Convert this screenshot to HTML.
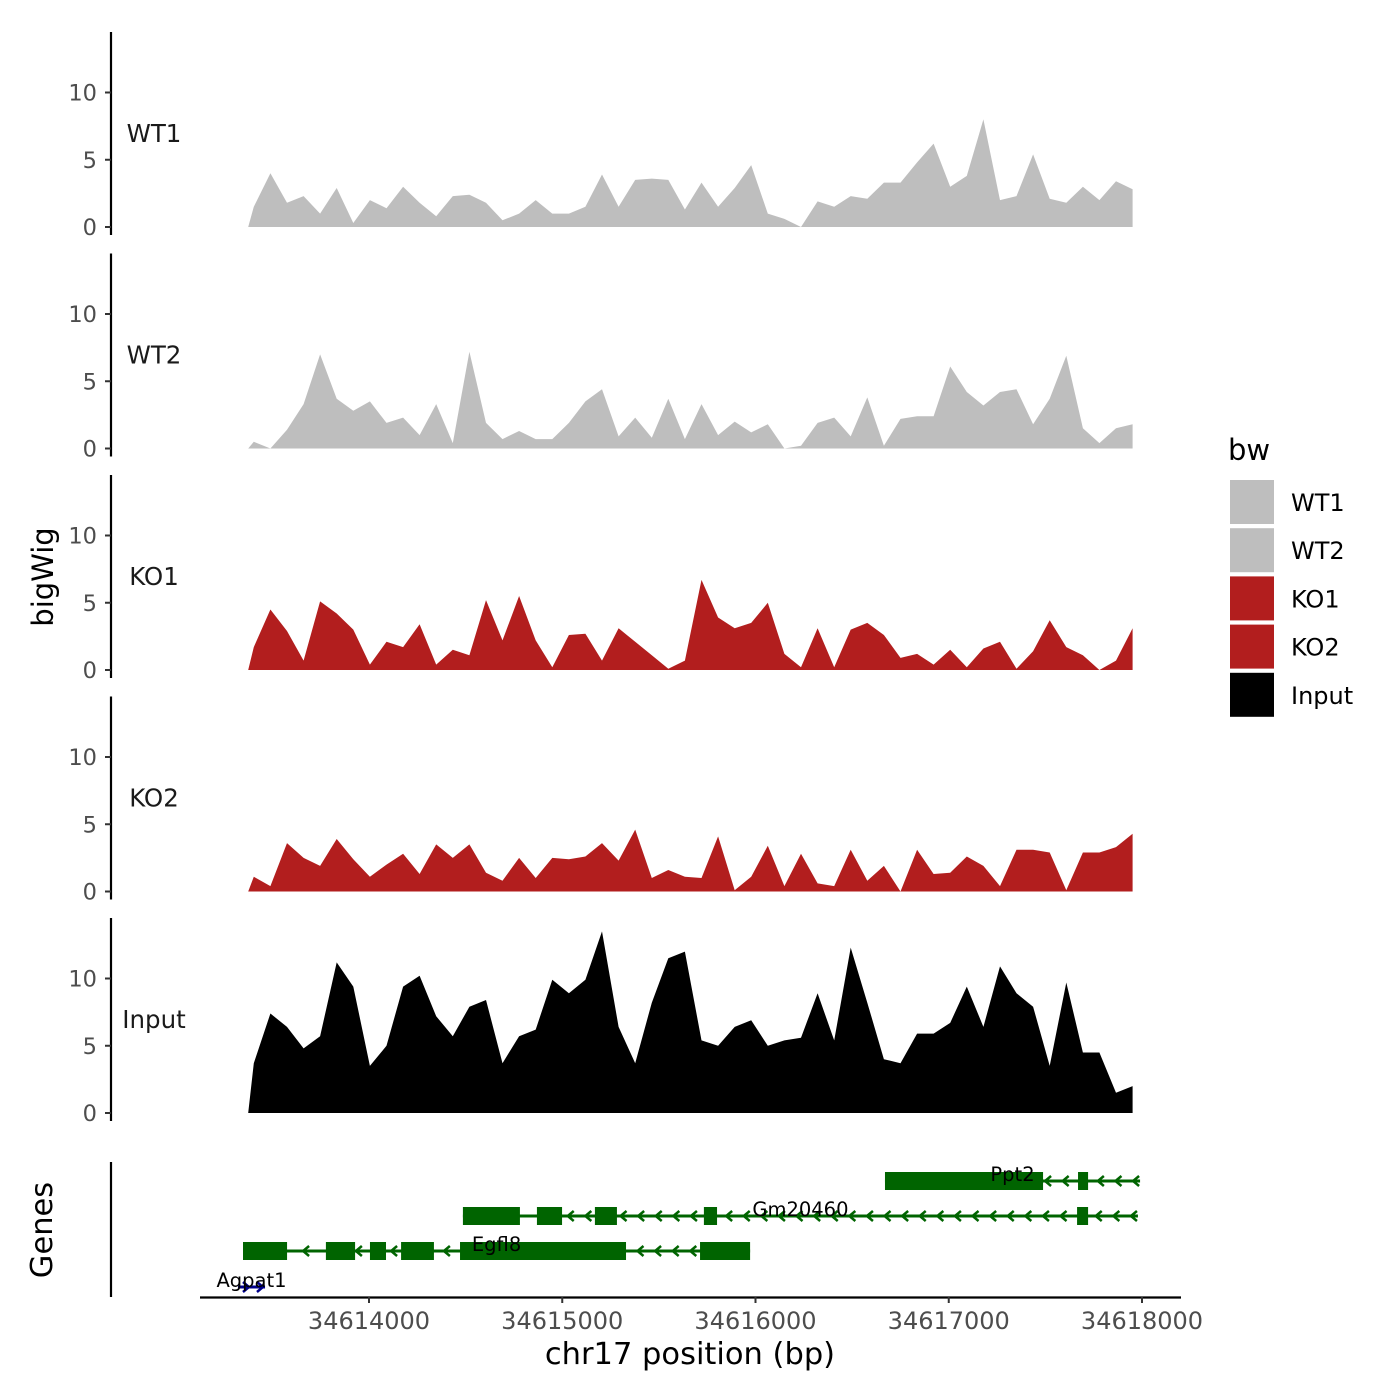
<!DOCTYPE html>
<html><head><meta charset="utf-8"><style>
html,body{margin:0;padding:0;background:#fff;}
svg{display:block;font-family:"DejaVu Sans","Liberation Sans",sans-serif;}
</style></head><body>
<svg id="chart" width="1400" height="1400" viewBox="0 0 1400 1400"></svg>
<script>
const trackNames = ["WT1","WT2","KO1","KO2","Input"];
const trackColors = ["#bebebe","#bebebe","#b21e1e","#b21e1e","#000000"];
const startBp = 34613404;
const stepBp = 85.8;
const edgeBp = 34613375;
const wt1 = [1.5,4.0,1.8,2.3,1.0,2.9,0.3,2.0,1.4,3.0,1.8,0.8,2.3,2.4,1.8,0.5,1.0,2.0,1.0,1.0,1.5,3.9,1.5,3.5,3.6,3.5,1.3,3.3,1.5,2.9,4.6,1.0,0.6,0,1.9,1.5,2.3,2.1,3.3,3.3,4.8,6.2,3.0,3.8,8.0,2.0,2.3,5.4,2.1,1.8,3.0,2.0,3.4,2.8];
const wt2 = [0.5,0,1.4,3.3,7.0,3.7,2.8,3.5,1.9,2.3,1.0,3.3,0.4,7.2,1.9,0.7,1.3,0.7,0.7,1.9,3.5,4.4,0.9,2.3,0.8,3.7,0.7,3.3,1.0,2.0,1.2,1.8,0,0.2,1.9,2.3,0.9,3.8,0.2,2.2,2.4,2.4,6.1,4.2,3.2,4.2,4.4,1.8,3.7,6.9,1.5,0.4,1.5,1.8];
const ko1 = [1.7,4.5,2.9,0.7,5.1,4.2,3.0,0.4,2.1,1.7,3.4,0.4,1.5,1.1,5.2,2.2,5.5,2.2,0.2,2.6,2.7,0.7,3.1,2.1,1.1,0.1,0.7,6.7,3.9,3.1,3.5,5.0,1.2,0.2,3.1,0.2,3.0,3.5,2.6,0.9,1.2,0.4,1.5,0.2,1.6,2.1,0.1,1.4,3.7,1.7,1.1,0,0.7,3.1];
const ko2 = [1.1,0.4,3.6,2.5,1.9,3.9,2.4,1.1,2.0,2.8,1.3,3.5,2.5,3.5,1.4,0.8,2.5,1.0,2.5,2.4,2.6,3.6,2.3,4.6,1.0,1.6,1.1,1.0,4.1,0.1,1.1,3.4,0.4,2.8,0.6,0.4,3.1,0.8,1.9,0,3.1,1.3,1.4,2.6,1.9,0.4,3.1,3.1,2.9,0.1,2.9,2.9,3.3,4.3];
const input = [3.7,7.4,6.4,4.8,5.7,11.2,9.4,3.5,5.0,9.4,10.2,7.2,5.7,7.9,8.4,3.7,5.7,6.2,9.9,8.9,9.9,13.5,6.4,3.7,8.2,11.5,12.0,5.4,5.0,6.4,6.9,5.0,5.4,5.6,8.9,5.4,12.3,8.2,4.0,3.7,5.9,5.9,6.7,9.4,6.4,10.9,8.9,7.9,3.5,9.7,4.5,4.5,1.5,2.0];
const trackValues = [wt1,wt2,ko1,ko2,input];
const yTicks = [0,5,10];
const xTicks = [34614000,34615000,34616000,34617000,34618000];
const xTickLabels = ["34614000","34615000","34616000","34617000","34618000"];
const geneNames = ["Ppt2","Gm20460","Egfl8","Agpat1"];
const geneStart = [34616670,34614486,34613348,34613322];
const geneEnd = [34617990,34617979,34615972,34613462];
const geneStrand = ["-","-","-","+"];
const geneExons = [
  [[34616670,34617488],[34617669,34617721]],
  [[34614486,34614781],[34614869,34614999],[34615169,34615283],[34615733,34615801],[34617664,34617721]],
  [[34613348,34613576],[34613777,34613928],[34614005,34614088],[34614166,34614336],[34614471,34615330],[34615713,34615972]],
  []
];

const svg = document.getElementById('chart');
const NS = 'http://www.w3.org/2000/svg';
function mk(tag, attrs, parent){const e=document.createElementNS(NS,tag);for(const k in attrs)e.setAttribute(k,attrs[k]);(parent||svg).appendChild(e);return e;}
const xScale = bp => 369 + (bp - 34614000) * 0.19325;
const panelZero = k => 227 + 221.5 * k;
const yScale = (k, v) => panelZero(k) - v * 13.45;

trackNames.forEach((name, k) => {
  const g = mk('g', {});
  
  
  const z = panelZero(k);
  const ax = mk('line', {x1:111, x2:111, y1:z-195, y2:z+8, stroke:'#000', 'stroke-width':2.2}, g);
  
  
  yTicks.forEach(t => {
    const y = yScale(k, t);
    const tk = mk('line', {x1:105, x2:111, y1:y, y2:y, stroke:'#333', 'stroke-width':2}, g);
    
    
    const tl = mk('text', {x:97, y:y+8, 'text-anchor':'end', 'font-size':22.5, fill:'#4d4d4d'}, g);
    tl.textContent = t;
    
    
  });
  const lab = mk('text', {x: 154, y: z - 85, 'text-anchor':'middle', 'font-size':24.5, fill:'#1a1a1a'}, g);
  lab.textContent = name;
  
  
  const vals = trackValues[k];
  let d = 'M' + xScale(edgeBp).toFixed(1) + ',' + z;
  vals.forEach((v, i) => { d += ' L' + xScale(startBp + i*stepBp).toFixed(1) + ',' + yScale(k, v).toFixed(1); });
  d += ' L' + xScale(startBp + (vals.length-1)*stepBp).toFixed(1) + ',' + z + ' Z';
  const area = mk('path', {d:d, fill:trackColors[k]}, g);
  
  
});

const yt = mk('text', {x:0, y:0, transform:'translate(53,577) rotate(-90)', 'text-anchor':'middle', 'font-size':29, fill:'#000'});
yt.textContent = 'bigWig';



const gp = mk('g', {});


const gax = mk('line', {x1:111, x2:111, y1:1162, y2:1297, stroke:'#000', 'stroke-width':2.2}, gp);


const gt = mk('text', {x:0, y:0, transform:'translate(52,1230) rotate(-90)', 'text-anchor':'middle', 'font-size':30.5, fill:'#000'}, gp);
gt.textContent = 'Genes';


const rowY = [1181, 1216, 1251, 1287];
geneNames.forEach((gn, r) => {
  const col = geneStrand[r] === '+' ? '#00008b' : '#006400';
  const y = rowY[r];
  const g = mk('g', {}, gp);
  
  
  const x0 = xScale(geneStart[r]), x1 = xScale(geneEnd[r]);
  const ln = mk('line', {x1:x0, x2:x1, y1:y, y2:y, stroke:col, 'stroke-width':3}, g);
  
  
  const ex = geneExons[r];
  const inExon = x => ex.some(e => x >= xScale(e[0]) - 3 && x <= xScale(e[1]) + 3);
  if (geneStrand[r] === '-') {
    for (let x = x1 - 4; x > x0 + 4; x -= 17.6) {
      if (inExon(x)) continue;
      const c = mk('polyline', {points:(x+3)+','+(y-5)+' '+(x-3)+','+y+' '+(x+3)+','+(y+5), fill:'none', stroke:col, 'stroke-width':2.5}, g);
      
      
    }
  } else {
    for (let x = x0 + 8; x < x1; x += 14) {
      const c = mk('polyline', {points:(x-3)+','+(y-5)+' '+(x+3)+','+y+' '+(x-3)+','+(y+5), fill:'none', stroke:col, 'stroke-width':2.5}, g);
      
      
    }
  }
  ex.forEach(e => {
    const rc = mk('rect', {x:xScale(e[0]), y:y-9, width:xScale(e[1])-xScale(e[0]), height:18, fill:col}, g);
    
    
  });
  const tl = mk('text', {x:(x0+x1)/2, y:y, 'text-anchor':'middle', 'font-size':19.5, fill:'#000'}, g);
  tl.textContent = gn;
  
  
});

const xa = mk('line', {x1:200, x2:1181, y1:1297.5, y2:1297.5, stroke:'#000', 'stroke-width':2.2});


xTicks.forEach((t, i) => {
  const x = xScale(t);
  const tk = mk('line', {x1:x, x2:x, y1:1297, y2:1303, stroke:'#333', 'stroke-width':2});
  
  
  const tl = mk('text', {x:x, y:1329, 'text-anchor':'middle', 'font-size':24, fill:'#4d4d4d'});
  tl.textContent = xTickLabels[i];
  
  
});
const xt = mk('text', {x:690, y:1364, 'text-anchor':'middle', 'font-size':30.5, fill:'#000'});
xt.textContent = 'chr17 position (bp)';



const lg = mk('g', {});


const lt = mk('text', {x:1228, y:460, 'font-size':29, fill:'#000'}, lg);
lt.textContent = 'bw';


trackNames.forEach((n, i) => {
  const y = 480 + i * 48.2;
  const e = mk('g', {}, lg);
  
  
  const r = mk('rect', {x:1230, y:y, width:44, height:44, fill:trackColors[i]}, e);
  
  
  const t = mk('text', {x:1291, y:y+31, 'font-size':24, fill:'#000'}, e);
  t.textContent = n;
  
  
});
</script>
</body></html>
